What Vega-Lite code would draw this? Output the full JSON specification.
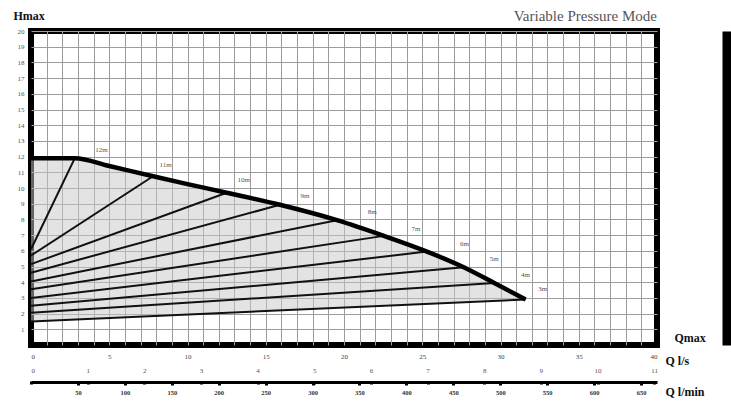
{
  "$schema": "https://vega.github.io/schema/vega-lite/v6.json",
  "width": 626,
  "height": 314,
  "autosize": {"type": "none"},
  "padding": {"left": 31, "top": 31, "right": 74, "bottom": 58},
  "background": "white",
  "config": {
    "view": {"stroke": "black", "strokeWidth": 6},
    "font": "Liberation Serif",
    "title": {"font": "Liberation Serif"},
    "axis": {"labelFont": "Liberation Serif", "titleFont": "Liberation Serif"}
  },
  "title": {
    "text": "Variable Pressure Mode",
    "anchor": "end",
    "frame": "group",
    "fontSize": 15,
    "fontWeight": "normal",
    "color": "#555555",
    "font": "Liberation Serif",
    "offset": -15
  },
  "datasets": {
    "curve": [
      {"q": 0, "h": 11.9, "hb": 1.5},
      {"q": 2.8, "h": 11.9, "hb": 1.62},
      {"q": 5, "h": 11.4, "hb": 1.72},
      {"q": 7.8, "h": 10.75, "hb": 1.85},
      {"q": 10, "h": 10.25, "hb": 1.94},
      {"q": 12.5, "h": 9.7, "hb": 2.05},
      {"q": 15.9, "h": 8.93, "hb": 2.2},
      {"q": 19.55, "h": 7.95, "hb": 2.37},
      {"q": 22.55, "h": 6.95, "hb": 2.5},
      {"q": 25.3, "h": 5.95, "hb": 2.62},
      {"q": 27.65, "h": 4.95, "hb": 2.72},
      {"q": 29.6, "h": 3.95, "hb": 2.81},
      {"q": 31.6, "h": 2.9, "hb": 2.9}
    ],
    "lines": [
      {"set": "12m", "q": 0, "h": 6.1}, {"set": "12m", "q": 2.8, "h": 11.9},
      {"set": "11m", "q": 0, "h": 5.7}, {"set": "11m", "q": 7.8, "h": 10.75},
      {"set": "10m", "q": 0, "h": 5.15}, {"set": "10m", "q": 12.5, "h": 9.7},
      {"set": "9m", "q": 0, "h": 4.6}, {"set": "9m", "q": 15.9, "h": 8.93},
      {"set": "8m", "q": 0, "h": 4.05}, {"set": "8m", "q": 19.55, "h": 7.95},
      {"set": "7m", "q": 0, "h": 3.55}, {"set": "7m", "q": 22.55, "h": 6.95},
      {"set": "6m", "q": 0, "h": 3.0}, {"set": "6m", "q": 25.3, "h": 5.95},
      {"set": "5m", "q": 0, "h": 2.5}, {"set": "5m", "q": 27.65, "h": 4.95},
      {"set": "4m", "q": 0, "h": 2.05}, {"set": "4m", "q": 29.6, "h": 3.95},
      {"set": "3m", "q": 0, "h": 1.5}, {"set": "3m", "q": 31.6, "h": 2.9}
    ],
    "labels": [
      {"label": "12m", "q": 4.5, "h": 12.4},
      {"label": "11m", "q": 8.6, "h": 11.45},
      {"label": "10m", "q": 13.6, "h": 10.5},
      {"label": "9m", "q": 17.5, "h": 9.5},
      {"label": "8m", "q": 21.8, "h": 8.45},
      {"label": "7m", "q": 24.6, "h": 7.4},
      {"label": "6m", "q": 27.7, "h": 6.43},
      {"label": "5m", "q": 29.6, "h": 5.48},
      {"label": "4m", "q": 31.6, "h": 4.47},
      {"label": "3m", "q": 32.7, "h": 3.56}
    ],
    "m3h": [
      {"v": 0}, {"v": 1}, {"v": 2}, {"v": 3}, {"v": 4}, {"v": 5},
      {"v": 6}, {"v": 7}, {"v": 8}, {"v": 9}, {"v": 10}, {"v": 11}
    ],
    "lpm": [
      {"v": 50}, {"v": 100}, {"v": 150}, {"v": 200}, {"v": 250}, {"v": 300}, {"v": 350},
      {"v": 400}, {"v": 450}, {"v": 500}, {"v": 550}, {"v": 600}, {"v": 650}
    ]
  },
  "layer": [
    {
      "data": {"name": "curve"},
      "mark": {"type": "area", "interpolate": "monotone", "fill": "#c8c8c8", "opacity": 0.5},
      "encoding": {
        "x": {
          "field": "q", "type": "quantitative",
          "scale": {"domain": [0, 40], "nice": false},
          "axis": {
            "values": [1,2,3,4,5,6,7,8,9,10,11,12,13,14,15,16,17,18,19,20,21,22,23,24,25,26,27,28,29,30,31,32,33,34,35,36,37,38,39],
            "grid": true, "gridColor": "#9c9c9c", "gridWidth": 1,
            "labels": false, "ticks": false, "domain": false, "title": null
          }
        },
        "y": {
          "field": "h", "type": "quantitative",
          "scale": {"domain": [0, 20], "nice": false},
          "axis": {
            "values": [1,2,3,4,5,6,7,8,9,10,11,12,13,14,15,16,17,18,19,20],
            "grid": true, "gridColor": "#9c9c9c", "gridWidth": 1,
            "ticks": false, "domain": false,
            "labelFontSize": 7, "labelColor": "#555555", "labelPadding": 7,
            "title": "Hmax", "titleAngle": 0, "titleX": -18, "titleY": -16,
            "titleAlign": "left", "titleBaseline": "middle",
            "titleFontSize": 12, "titleFontWeight": "bold", "titleColor": "#111111"
          }
        },
        "y2": {"field": "hb"}
      }
    },
    {
      "data": {"name": "lines"},
      "mark": {"type": "line", "color": "#111111", "strokeWidth": 2},
      "encoding": {
        "x": {
          "field": "q", "type": "quantitative",
          "scale": {"domain": [0, 40], "nice": false},
          "axis": {
            "orient": "bottom",
            "values": [0, 5, 10, 15, 20, 25, 30, 35, 40],
            "grid": false, "ticks": false, "domain": false,
            "labelFontSize": 7, "labelColor": "#444444", "labelPadding": 7,
            "title": "Q l/s", "titleX": 634, "titleY": 15,
            "titleAlign": "left", "titleBaseline": "middle",
            "titleFontSize": 12, "titleFontWeight": "bold", "titleColor": "#111111"
          }
        },
        "y": {"field": "h", "type": "quantitative", "scale": {"domain": [0, 20], "nice": false}, "axis": null},
        "detail": {"field": "set"}
      }
    },
    {
      "data": {"name": "curve"},
      "mark": {"type": "line", "interpolate": "monotone", "color": "black", "strokeWidth": 4.5},
      "encoding": {
        "x": {"field": "q", "type": "quantitative", "scale": {"domain": [0, 40], "nice": false}, "axis": null},
        "y": {"field": "h", "type": "quantitative", "scale": {"domain": [0, 20], "nice": false}, "axis": null}
      }
    },
    {
      "data": {"name": "labels"},
      "mark": {"type": "text", "fontSize": 7, "color": "#555555", "font": "Liberation Serif"},
      "encoding": {
        "x": {"field": "q", "type": "quantitative", "scale": {"domain": [0, 40], "nice": false}, "axis": null},
        "y": {"field": "h", "type": "quantitative", "scale": {"domain": [0, 20], "nice": false}, "axis": null},
        "text": {"field": "label"}
      }
    },
    {
      "data": {"name": "m3h"},
      "mark": {"type": "point", "opacity": 0},
      "encoding": {
        "x": {
          "field": "v", "type": "quantitative",
          "scale": {"domain": [0, 11.05], "nice": false},
          "axis": {
            "orient": "bottom", "offset": 36,
            "values": [0,1,2,3,4,5,6,7,8,9,10,11],
            "grid": false, "domain": false,
            "ticks": true, "tickSize": 3, "tickWidth": 3, "tickColor": "black",
            "labelPadding": -11, "labelBaseline": "bottom",
            "labelFontSize": 7, "labelColor": "#555555",
            "title": "Qmax", "titleX": 643, "titleY": -44,
            "titleAlign": "left", "titleBaseline": "middle",
            "titleFontSize": 12, "titleFontWeight": "bold", "titleColor": "#111111"
          }
        },
        "y": {
          "field": "v", "type": "quantitative",
          "scale": {"domain": [0, 20], "nice": false},
          "axis": {
            "orient": "right", "offset": 70,
            "domain": true, "domainColor": "black", "domainWidth": 10,
            "labels": false, "ticks": false, "grid": false, "title": null
          }
        }
      }
    },
    {
      "data": {"name": "lpm"},
      "mark": {"type": "point", "opacity": 0},
      "encoding": {
        "x": {
          "field": "v", "type": "quantitative",
          "scale": {"domain": [0, 667], "nice": false},
          "axis": {
            "orient": "bottom", "offset": 37,
            "values": [50,100,150,200,250,300,350,400,450,500,550,600,650],
            "grid": false,
            "domain": true, "domainColor": "black", "domainWidth": 3,
            "ticks": true, "tickSize": 3, "tickWidth": 3, "tickColor": "black",
            "labelPadding": 4, "labelFontSize": 6.5, "labelColor": "#333333", "labelFontWeight": "bold",
            "title": "Q l/min", "titleX": 634, "titleY": 9,
            "titleAlign": "left", "titleBaseline": "middle",
            "titleFontSize": 12, "titleFontWeight": "bold", "titleColor": "#111111"
          }
        }
      }
    }
  ],
  "resolve": {
    "scale": {"x": "independent"},
    "axis": {"x": "independent", "y": "independent"}
  }
}
